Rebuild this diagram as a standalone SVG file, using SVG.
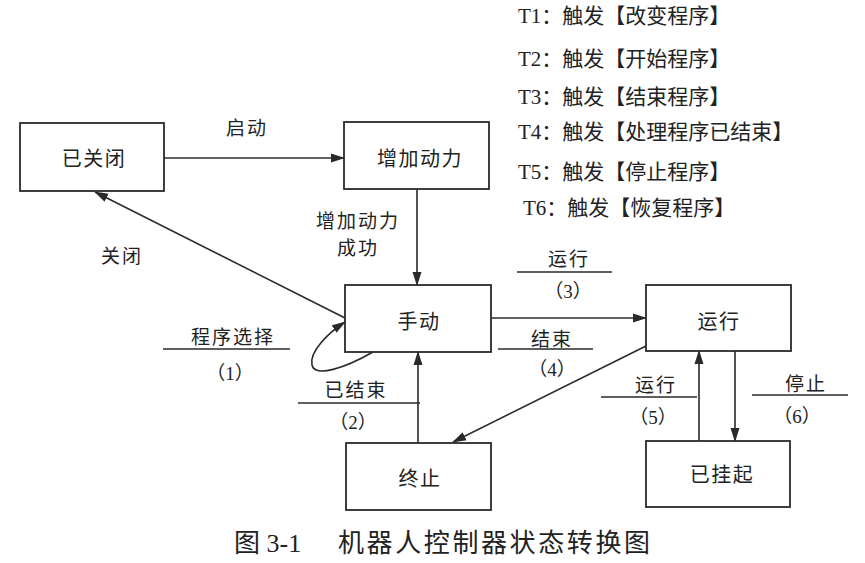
<svg xmlns="http://www.w3.org/2000/svg" width="865" height="563" viewBox="0 0 865 563">
<style>
.box{fill:#fff;stroke:#2a2a2a;stroke-width:1.8}
.nt{font-family:"Noto Sans CJK SC",sans-serif;font-size:20px;fill:#222;text-anchor:middle;dominant-baseline:central;letter-spacing:1.5px}
.lb{font-family:"Liberation Serif","Noto Sans CJK SC",serif;font-size:19px;fill:#222;text-anchor:middle;dominant-baseline:central;letter-spacing:2px}
.num{font-family:"Liberation Serif","Noto Sans CJK SC",serif;font-size:19px;fill:#222;text-anchor:middle;dominant-baseline:central}
.lg{font-family:"Liberation Serif","Noto Sans CJK SC",serif;font-size:21px;fill:#222;dominant-baseline:central}
.cap{font-family:"Liberation Serif","Noto Sans CJK SC",serif;font-size:26px;fill:#222;dominant-baseline:central}
.ln{stroke:#2a2a2a;stroke-width:1.6;fill:none}
.ul{stroke:#2a2a2a;stroke-width:1.6}
</style>
<defs>
<marker id="ah" markerWidth="14" markerHeight="10" refX="13" refY="5" orient="auto" markerUnits="userSpaceOnUse">
<path d="M0,0.5 L14,5 L0,9.5 Z" fill="#2a2a2a"/>
</marker>
</defs>
<rect width="865" height="563" fill="#fff"/>

<g id="nodes">
<g id="n-closed"><rect class="box" x="20" y="123" width="144" height="68"/><text class="nt" x="94" y="157">已关闭</text></g>
<g id="n-power"><rect class="box" x="344" y="122" width="145" height="67"/><text class="nt" x="420" y="157">增加动力</text></g>
<g id="n-manual"><rect class="box" x="345" y="285" width="146" height="67"/><text class="nt" x="419" y="320">手动</text></g>
<g id="n-run"><rect class="box" x="646" y="285" width="145" height="66"/><text class="nt" x="719" y="320">运行</text></g>
<g id="n-stop"><rect class="box" x="346" y="443" width="145" height="67"/><text class="nt" x="420" y="477">终止</text></g>
<g id="n-suspended"><rect class="box" x="646" y="441" width="144" height="66"/><text class="nt" x="722" y="473">已挂起</text></g>
</g>

<g id="connectors">
<line class="ln" x1="164" y1="158" x2="344" y2="158" marker-end="url(#ah)"/>
<line class="ln" x1="417" y1="189" x2="417" y2="285" marker-end="url(#ah)"/>
<line class="ln" x1="345" y1="318" x2="95" y2="192" marker-end="url(#ah)"/>
<path class="ln" d="M373,352 C345,368 315,378 312,365 C309,352 328,333 345,322" marker-end="url(#ah)"/>
<line class="ln" x1="418" y1="443" x2="418" y2="352" marker-end="url(#ah)"/>
<line class="ln" x1="491" y1="318" x2="646" y2="318" marker-end="url(#ah)"/>
<line class="ln" x1="646" y1="346" x2="453" y2="442" marker-end="url(#ah)"/>
<line class="ln" x1="699" y1="441" x2="699" y2="351" marker-end="url(#ah)"/>
<line class="ln" x1="735" y1="351" x2="735" y2="441" marker-end="url(#ah)"/>
</g>

<g id="labels">
<text class="lb" x="247" y="128">启动</text>
<text class="lb" x="122" y="256">关闭</text>
<text class="lb" x="358" y="221">增加动力</text>
<text class="lb" x="358" y="248">成功</text>

<text class="lb" x="233" y="337">程序选择</text>
<line class="ul" x1="163" y1="349" x2="290" y2="349"/>
<text class="num" x="230" y="373">（1）</text>

<text class="lb" x="356" y="390">已结束</text>
<line class="ul" x1="298" y1="403" x2="420" y2="403"/>
<text class="num" x="353" y="422">（2）</text>

<text class="lb" x="569" y="259">运行</text>
<line class="ul" x1="517" y1="272" x2="612" y2="272"/>
<text class="num" x="568" y="291">（3）</text>

<text class="lb" x="552" y="339">结束</text>
<line class="ul" x1="498" y1="349" x2="593" y2="349"/>
<text class="num" x="552" y="369">（4）</text>

<text class="lb" x="656" y="385">运行</text>
<line class="ul" x1="601" y1="397" x2="697" y2="397"/>
<text class="num" x="653" y="417">（5）</text>

<text class="lb" x="806" y="384">停止</text>
<line class="ul" x1="752" y1="395" x2="848" y2="395"/>
<text class="num" x="797" y="416">（6）</text>
</g>

<g id="legend">
<text class="lg" x="518" y="16">T1：触发【改变程序】</text>
<text class="lg" x="518" y="59">T2：触发【开始程序】</text>
<text class="lg" x="518" y="97">T3：触发【结束程序】</text>
<text class="lg" x="518" y="132">T4：触发【处理程序已结束】</text>
<text class="lg" x="518" y="172">T5：触发【停止程序】</text>
<text class="lg" x="523" y="208">T6：触发【恢复程序】</text>
</g>

<g id="caption">
<text class="cap" x="234" y="543">图 3-1</text>
<text class="cap" x="338" y="543" textLength="312" lengthAdjust="spacing">机器人控制器状态转换图</text>
</g>
</svg>
